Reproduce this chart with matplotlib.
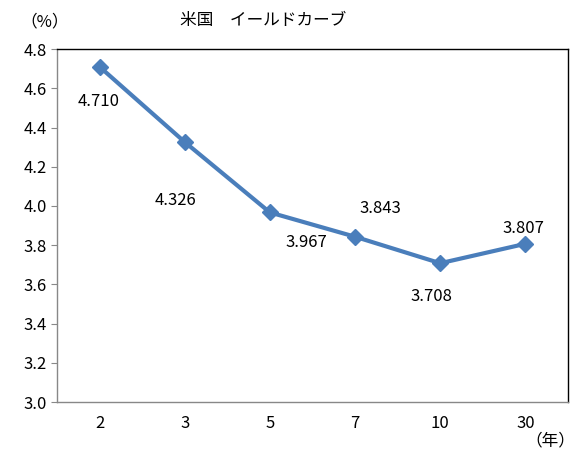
import matplotlib.pyplot as plt

plt.rcParams['font.family'] = ['Noto Sans CJK JP', 'DejaVu Sans']

terms = ['2', '3', '5', '7', '10', '30']
yields = [4.710, 4.326, 3.967, 3.843, 3.708, 3.807]
labels = ['4.710', '4.326', '3.967', '3.843', '3.708', '3.807']
# label offsets in points (dx, dy)
offsets = [(-1, -25), (-6.5, -42), (26.5, -22), (18, 20), (-6, -24), (-1.5, 11)]

fig = plt.figure(figsize=(5.84, 4.68), dpi=100)
ax = fig.add_axes([0.0976, 0.141, 0.875, 0.754])

x = range(len(terms))
ax.plot(x, yields, color='#4a7ebb', linewidth=3, marker='D', markersize=8)

for i, (v, t) in enumerate(zip(yields, labels)):
    ax.annotate(t, (i, v), xytext=offsets[i], textcoords='offset points',
                ha='center', va='center', fontsize=12)

ax.set_xlim(-0.5, 5.5)
ax.set_ylim(3.0, 4.8)
ax.set_yticks([3.0 + 0.2 * k for k in range(10)])
ax.set_yticklabels(['%.1f' % (3.0 + 0.2 * k) for k in range(10)], fontsize=12)
ax.set_xticks(list(x))
ax.set_xticklabels(terms, fontsize=12)
ax.tick_params(axis='x', length=0, pad=9)
ax.tick_params(axis='y', length=4, color='#888888', direction='out')

ax.spines['left'].set_color('#888888')
ax.spines['bottom'].set_color('#888888')
ax.spines['top'].set_color('black')
ax.spines['right'].set_color('black')
for s in ax.spines.values():
    s.set_linewidth(1)

fig.text(45 / 584, 1 - 22 / 468, '（%）', ha='center', va='center', fontsize=12)
fig.text(263 / 584, 1 - 20 / 468, '米国　イールドカーブ', ha='center', va='center', fontsize=12)
fig.text(550 / 584, 1 - 441 / 468, '（年）', ha='center', va='center', fontsize=12)

fig.savefig('out.png', dpi=100)
